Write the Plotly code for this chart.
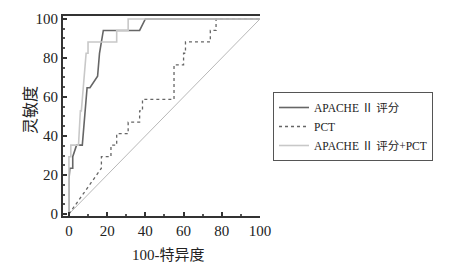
import plotly.graph_objects as go

# ROC curve data (x = 100-特异度, y = 灵敏度)
apache_x = [0, 0, 0.5, 2, 2, 4, 7, 8, 9.5, 11, 15, 16, 18, 37, 40, 100]
apache_y = [0, 17.6, 23.5, 23.5, 29.4, 35.3, 35.3, 47.1, 64.7, 64.7, 70.6, 82.4, 94.1, 94.1, 100, 100]

pct_x = [0, 17, 17, 22, 22, 25, 25, 31, 31, 37, 37, 38.5, 38.5, 55, 55, 60, 60, 61, 61, 74, 74, 77, 77, 100]
pct_y = [0, 23.5, 29.4, 29.4, 35.3, 35.3, 41.2, 41.2, 47.1, 47.1, 52.9, 52.9, 58.8, 58.8, 76.5, 76.5, 82.4, 82.4, 88.2, 88.2, 94.1, 94.1, 100, 100]

combo_x = [0, 0, 1, 1, 5, 6, 6.5, 7.5, 9, 10, 10, 25, 25, 31, 31, 100]
combo_y = [0, 29.4, 29.4, 35.3, 35.3, 52.9, 52.9, 64.7, 82.4, 82.4, 88.2, 88.2, 94.1, 94.1, 100, 100]

ref_x = [0, 100]
ref_y = [0, 100]

names = ["APACHE Ⅱ 评分", "PCT", "APACHE Ⅱ 评分+PCT"]
x_ticks = [0, 20, 40, 60, 80, 100]
y_ticks = [0, 20, 40, 60, 80, 100]
x_title = "100-特异度"
y_title = "灵敏度"

serif = "'Liberation Serif', 'Times New Roman', 'Noto Sans CJK SC', serif"

fig = go.Figure()
fig.add_trace(go.Scatter(x=ref_x, y=ref_y, mode="lines", showlegend=False,
                         line=dict(color="#b8b8b8", width=1), hoverinfo="skip"))
fig.add_trace(go.Scatter(x=apache_x, y=apache_y, mode="lines", name=names[0],
                         line=dict(color="#666666", width=1.6)))
fig.add_trace(go.Scatter(x=pct_x, y=pct_y, mode="lines", name=names[1],
                         line=dict(color="#666666", width=1.3, dash="dot")))
fig.add_trace(go.Scatter(x=combo_x, y=combo_y, mode="lines", name=names[2],
                         line=dict(color="#c8c8c8", width=1.6)))

fig.update_layout(
    width=452, height=274,
    margin=dict(l=63, r=192, t=16, b=58),
    paper_bgcolor="white", plot_bgcolor="white",
    font=dict(family=serif, color="#222"),
    legend=dict(x=1.066, y=0.62, xanchor="left", yanchor="top",
                bordercolor="#555", borderwidth=1, bgcolor="white",
                font=dict(size=11.5, family=serif, color="#222"),
                itemwidth=30, tracegroupgap=0),
    annotations=[
        dict(text=x_title, xref="paper", yref="paper", x=0.538, y=-0.195,
             xanchor="center", yanchor="middle", showarrow=False,
             font=dict(size=15, family=serif, color="#222")),
        dict(text=y_title, xref="paper", yref="paper", x=-0.168, y=0.53,
             xanchor="center", yanchor="middle", showarrow=False, textangle=-90,
             font=dict(size=16, family=serif, color="#222")),
    ],
)
fig.update_xaxes(range=[-3.1, 100], tickvals=x_ticks, ticktext=[str(v) for v in x_ticks],
                 showgrid=False, zeroline=False,
                 showline=True, linecolor="#333", linewidth=2, mirror=True,
                 ticks="inside", ticklen=4, tickcolor="#333", tickwidth=1.5,
                 minor=dict(dtick=10, tick0=0, ticks="inside", ticklen=2, tickcolor="#555"),
                 tickfont=dict(size=15, family=serif, color="#222"))
fig.update_yaxes(range=[-1, 101.5], tickvals=y_ticks, ticktext=[str(v) for v in y_ticks],
                 showgrid=False, zeroline=False,
                 showline=True, linecolor="#333", linewidth=2,
                 ticks="inside", ticklen=4, tickcolor="#333", tickwidth=1.5,
                 minor=dict(dtick=5, tick0=0, ticks="inside", ticklen=2, tickcolor="#555"),
                 tickfont=dict(size=15, family=serif, color="#222"))

fig.write_html("out.html")
